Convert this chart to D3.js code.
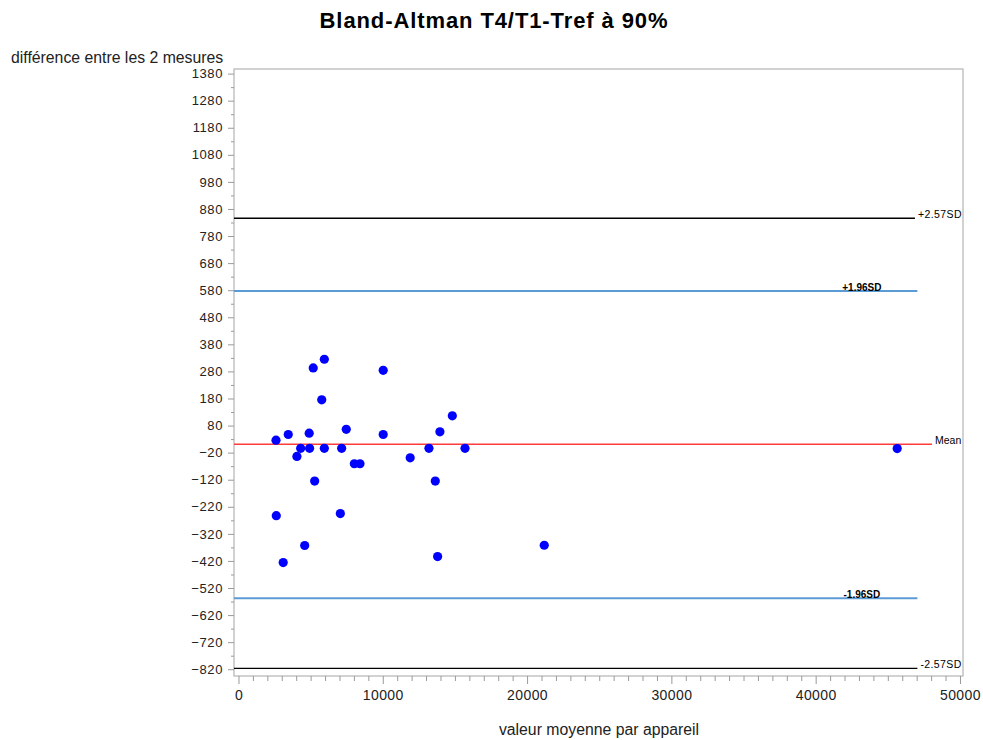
<!DOCTYPE html>
<html>
<head>
<meta charset="utf-8">
<script src="https://cdn.jsdelivr.net/npm/d3@7"></script>
<style>
  html, body { margin: 0; padding: 0; background: #fff; }
  svg { display: block; font-family: "Liberation Sans", Arial, sans-serif; }
</style>
</head>
<body>
<svg id="chart" width="983" height="740"></svg>
<script>
// ---- data ----
const meanValues = [2600, 3450, 4050, 4310, 4900, 4930, 5180, 5280, 5950, 5770,
                    5950, 7150, 7470, 8030, 8420, 10030, 10030, 11900, 13200, 13640,
                    13960, 14820, 15700, 2620, 7060, 4590, 3100, 13800, 21190, 45650];
const diffValues = [26, 47, -34, -4, 52, -4, 293, -125, 325, 175,
                    -4, -4, 66, -61, -61, 284, 47, -39, -4, -125,
                    57, 116, -4, -253, -245, -363, -426, -404, -362, -5];

const refNames  = ["+2.57SD", "+1.96SD", "Mean", "-1.96SD", "-2.57SD"];
const refValues = [846, 577, 11, -558, -817];
const refEnds   = [46880, 47050, 48060, 47050, 47050];

const yTickValues = [1380, 1280, 1180, 1080, 980, 880, 780, 680, 580, 480, 380, 280, 180, 80,
                     -20, -120, -220, -320, -420, -520, -620, -720, -820];
const xTickValues = [0, 10000, 20000, 30000, 40000, 50000];

const titleText = "Bland-Altman T4/T1-Tref à 90%";
const yLabelText = "différence entre les 2 mesures";
const xLabelText = "valeur moyenne par appareil";

// ---- layout ----
const svg = d3.select("#chart");
const L = 234, R = 963, T = 69, B = 676;

const x = d3.scaleLinear().domain([-310, 50210]).range([L, R]);
const y = d3.scaleLinear().domain([-845, 1397]).range([B, T]);

const axisGray = "#9a9a9a";
const textCol = "#222";

// frame
svg.append("rect").attr("x", L).attr("y", T).attr("width", R - L).attr("height", B - T)
  .attr("fill", "none").attr("stroke", "#b4b4b4").attr("stroke-width", 1.2);

// y minor ticks
const yMinor = d3.range(-820, 1400, 50).filter(v => !yTickValues.includes(v));
const yAxisG = svg.append("g").attr("transform", `translate(${L},0)`);
yAxisG.call(d3.axisLeft(y).tickValues(yMinor).tickSize(3).tickFormat(""))
  .call(g => g.select(".domain").remove())
  .call(g => g.selectAll("line").attr("stroke", axisGray));
const yMajorG = svg.append("g").attr("transform", `translate(${L},0)`);
yMajorG.call(d3.axisLeft(y).tickValues(yTickValues).tickSize(6).tickPadding(5).tickFormat(d3.format("d")))
  .call(g => g.select(".domain").remove())
  .call(g => g.selectAll("line").attr("stroke", axisGray))
  .call(g => g.selectAll("text").attr("fill", textCol).style("font-size", "13px")
      .style("font-family", "'Liberation Sans', Arial, sans-serif").attr("letter-spacing", "0.6px"));

// x minor ticks
const xMinor = d3.range(0, 50001, 1000).filter(v => !xTickValues.includes(v));
svg.append("g").attr("transform", `translate(0,${B})`)
  .call(d3.axisBottom(x).tickValues(xMinor).tickSize(5).tickFormat(""))
  .call(g => g.select(".domain").remove())
  .call(g => g.selectAll("line").attr("stroke", axisGray));
svg.append("g").attr("transform", `translate(0,${B})`)
  .call(d3.axisBottom(x).tickValues(xTickValues).tickSize(8).tickPadding(6).tickFormat(d3.format("d")))
  .call(g => g.select(".domain").remove())
  .call(g => g.selectAll("line").attr("stroke", axisGray))
  .call(g => g.selectAll("text").attr("fill", textCol).style("font-size", "14px")
      .style("font-family", "'Liberation Sans', Arial, sans-serif").attr("letter-spacing", "0.4px"));

// reference lines
const refColors = ["#000000", "#5b9bd5", "#ff3b3b", "#5b9bd5", "#000000"];
const refWidths = [1.4, 2, 1.5, 2, 1.4];
const refs = refNames.map((n, i) => ({ name: n, v: refValues[i], end: refEnds[i], c: refColors[i], w: refWidths[i] }));

svg.append("g").selectAll("line").data(refs).join("line")
  .attr("x1", L).attr("x2", d => x(d.end))
  .attr("y1", d => y(d.v)).attr("y2", d => y(d.v))
  .attr("stroke", d => d.c).attr("stroke-width", d => d.w);

// labels
svg.append("g").selectAll("text").data(refs).join("text")
  .attr("x", d => d.name.includes("1.96") ? x(43200) : x(d.end) + 3)
  .attr("y", d => y(d.v) - 0.5)
  .attr("text-anchor", d => d.name.includes("1.96") ? "middle" : "start")
  .attr("font-size", d => d.name.includes("1.96") ? "10px" : "10.5px")
  .attr("font-weight", d => d.name.includes("1.96") ? "bold" : "normal")
  .attr("fill", "#000")
  .attr("letter-spacing", d => d.name.includes("2.57") ? "0.4px" : "0px")
  .text(d => d.name);

// points
const pts = meanValues.map((m, i) => ({ m, d: diffValues[i] }));
svg.append("g").selectAll("circle").data(pts).join("circle")
  .attr("cx", d => x(d.m)).attr("cy", d => y(d.d)).attr("r", 4.6)
  .attr("fill", "#0000ff");

// titles
svg.append("text").attr("x", 494).attr("y", 27.5).attr("text-anchor", "middle")
  .attr("font-size", "22px").attr("font-weight", "bold").attr("letter-spacing", "0.9px")
  .attr("fill", "#000").text(titleText);
svg.append("text").attr("x", 11).attr("y", 62.5)
  .attr("font-size", "15.8px").attr("fill", textCol).text(yLabelText);
svg.append("text").attr("x", 599).attr("y", 735).attr("text-anchor", "middle")
  .attr("font-size", "15.8px").attr("fill", textCol).text(xLabelText);
</script>
</body>
</html>
